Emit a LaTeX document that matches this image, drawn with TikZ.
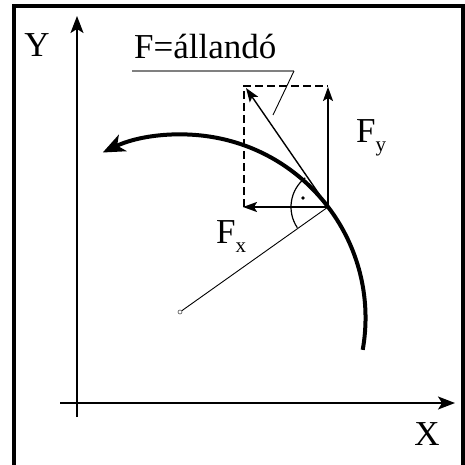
\documentclass[tikz,border=0pt]{standalone}
\usepackage{fontspec}
\setmainfont{Liberation Serif}
\usetikzlibrary{arrows.meta}
\begin{document}
\begin{tikzpicture}[x=1pt,y=1pt,
  big/.style={font=\fontsize{35}{35}\selectfont, inner sep=0pt},
  axis/.style={line width=1.6pt, -{Stealth[length=17pt,width=13pt,inset=4pt]}},
  vec/.style={line width=1.8pt, -{Stealth[length=14pt,width=10pt,inset=3pt]}},
  traj/.style={line width=4pt, -{Stealth[length=22pt,width=18pt,inset=6pt]}},
  helper/.style={line width=0.9pt},
  dashbox/.style={line width=1.5pt, dash pattern=on 8pt off 4pt}]
\useasboundingbox (0,0) rectangle (465,464);
% frame
\draw[line width=4pt] (14,-4) -- (14,458) -- (462.5,458) -- (462.5,-4);
% coordinates
\coordinate (yb) at (77,47);
\coordinate (yt) at (77,448);
\coordinate (xl) at (60,61);
\coordinate (xr) at (455,61);
\draw[axis] (yb) -- (yt);
\draw[axis] (xl) -- (xr);
\node[big] (ylab) at (37,419) {Y};
\node[big] (xlab) at (427,30) {X};
% key points
\coordinate (P) at (328,257);
\coordinate (O) at (182,146);
\node[circle, draw=black!70, line width=0.6pt, inner sep=0pt, minimum size=4pt] (C) at (180,152) {};
% radius line
\draw[helper] (C) -- (P);
% dashed box
\coordinate (d1) at (244,257);
\coordinate (d2) at (244,378);
\coordinate (d3) at (328,378);
\draw[dashbox] (d1) -- (d2) -- (d3);
% trajectory
\draw[traj] ([shift={(-10:183.5)}]O) arc[start angle=-10, end angle=115.6, radius=183.5];
% vectors
\coordinate (fx) at (243,257);
\coordinate (fy) at (328,377);
\coordinate (ff) at (246,376);
\draw[vec] (P) -- (fx);
\draw[vec] (P) -- (fy);
\draw[vec, line width=1.4pt] (P) -- (ff);
% angle mark
\draw[line width=1.2pt] ([shift={(128:37)}]P) arc[start angle=128, end angle=214, radius=37];
\fill (303,266) circle (1.8pt);
% labels
\node[big, anchor=base west] (Fy) at (356,321) {F\raisebox{-9pt}{\fontsize{21}{21}\selectfont y}};
\node[big, anchor=base west] (Fx) at (216,221) {F\raisebox{-9pt}{\fontsize{21}{21}\selectfont x}};
\node[big, anchor=base west] (Ft) at (134,405) {F=állandó};
% annotation leader
\coordinate (u1) at (132,393);
\coordinate (u2) at (294,393);
\coordinate (u3) at (273,349);
\draw[black!50, line width=1.4pt] (u1) -- (u2);
\draw[helper] (u2) -- (u3);
\end{tikzpicture}
\end{document}
